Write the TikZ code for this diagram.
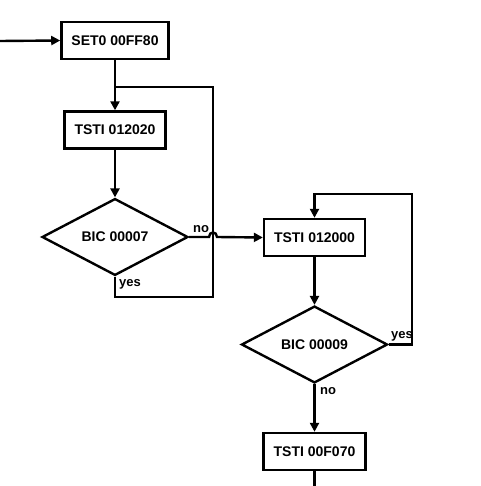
\documentclass[tikz,border=0pt]{standalone}
\usepackage{fontspec}
\setmainfont{Liberation Sans}
\usetikzlibrary{arrows.meta,positioning,shapes.geometric,calc}

\begin{document}
\begin{tikzpicture}[x=1pt,y=-1pt,
  fcbox/.style={draw,line width=2.4pt,minimum height=37pt,inner xsep=10pt,
    font=\fontsize{14}{16}\selectfont\bfseries},
  fctest/.style={draw,diamond,line width=2.4pt,minimum width=146pt,minimum height=73pt,
    inner sep=0pt,font=\fontsize{14}{16}\selectfont\bfseries},
  fcline/.style={line width=2.4pt},
  fcarrow/.style={fcline,-{Triangle[length=9pt,width=9pt]}},
  fctag/.style={font=\fontsize{13}{15}\selectfont\bfseries,inner sep=0pt}
]
  \useasboundingbox (0,0) rectangle (480,486);
  % Left column: first wait loop
  \node[fcbox] (set0) at (115,40.5) {SET0 00FF80};
  \node[fcbox] (tsti1) at (115,130) {TSTI 012020};
  \node[fctest] (bic1) at (115,237) {BIC 00007};
  % Right column: second wait loop
  \node[fcbox] (tsti2) at (314.5,237.5) {TSTI 012000};
  \node[fctest] (bic2) at (314.5,344.5) {BIC 00009};
  \node[fcbox] (tsti3) at (314.5,451.5) {TSTI 00F070};
  % Free ends
  \coordinate (entry) at (0,41);
  \coordinate (exit) at (314.5,486);
  \coordinate (loop1) at (213,87);
  \coordinate (loop2) at (412,194);
  % Connectors
  \draw[fcarrow] (entry) -- (set0.west);
  \draw[fcarrow] (set0.south) -- (tsti1.north);
  \draw[fcarrow] (tsti1.south) -- (bic1.north);
  \draw[fcline] (bic1.south) |- (loop1 |- 0,297) -- (loop1) -- (set0.south |- loop1);
  \draw[fcarrow] (bic1.east) -- (209,237) .. controls (209,231) and (217,231) .. (217,237)
    -- (tsti2.west);
  \draw[fcarrow] (tsti2.south) -- (bic2.north);
  \draw[fcarrow] (bic2.east) -| (loop2) -| (tsti2.north);
  \draw[fcarrow] (bic2.south) -- (tsti3.north);
  \draw[fcline] (tsti3.south) -- (exit);
  % Branch labels
  \node[fctag] (no1) at (201,229) {no};
  \node[fctag] (yes1) at (130,284) {yes};
  \node[fctag] (yes2) at (402,336) {yes};
  \node[fctag] (no2) at (328,391) {no};
\end{tikzpicture}
\end{document}
